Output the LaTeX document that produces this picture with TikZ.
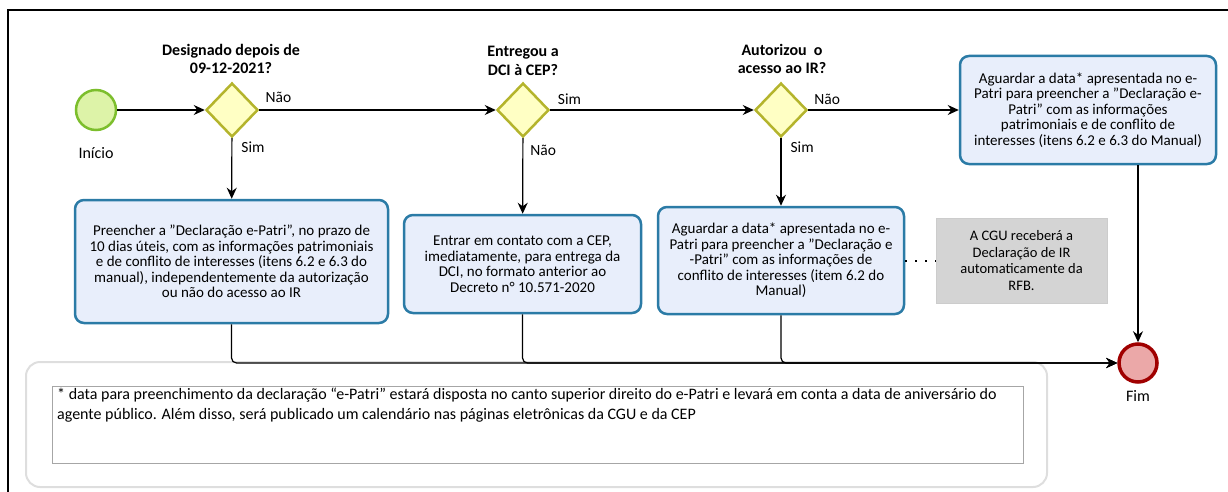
\documentclass[tikz,border=0pt]{standalone}
\usepackage{fontspec}
\setmainfont{Carlito}
\usepackage{tikz}
\usetikzlibrary{arrows.meta,positioning,shapes.geometric}
\definecolor{taskfill}{HTML}{E8EEFB}
\definecolor{taskline}{HTML}{2B7BA6}
\definecolor{gatefill}{HTML}{FFFFC4}
\definecolor{gateline}{HTML}{B4B42C}
\definecolor{startfill}{HTML}{DDF3A8}
\definecolor{startline}{HTML}{7CBE2C}
\definecolor{endfill}{HTML}{EBA8A8}
\definecolor{endline}{HTML}{A00000}
\definecolor{notefill}{HTML}{D4D4D4}
\definecolor{groupline}{HTML}{DEDEDE}

\begin{document}
\begin{tikzpicture}[x=1pt,y=-1pt,
  task/.style={draw=taskline,fill=taskfill,line width=2.5pt,rounded corners=9pt,
    align=center,inner sep=0pt,font=\fontsize{15}{15.5}\selectfont},
  gate/.style={diamond,draw=gateline,fill=gatefill,line width=2.5pt,
    minimum width=52pt,minimum height=54pt,inner sep=0pt},
  question/.style={align=center,font=\fontsize{16}{18.5}\selectfont\bfseries},
  branch/.style={font=\fontsize{15.5}{16}\selectfont,inner sep=1pt},
  flow/.style={line width=1.2pt,->,>={Stealth[length=11pt,width=10pt]}}]
\useasboundingbox (0,0) rectangle (1228,492);
\draw[line width=1.5pt] (8,500) -- (8,10) -- (1240,10);

% footnote group
\node (grp) [draw=groupline,line width=2pt,rounded corners=14pt,
  minimum width=1021pt,minimum height=125pt] at (536.5,424.5) {};
\node (fbox) [draw=black!35,line width=0.8pt,minimum width=971pt,
  minimum height=77pt] at (537.5,424.5) {};
\node (ftext) [anchor=north west,align=left,inner sep=0pt,
  font=\fontsize{16}{20}\selectfont] at (57,388)
  {* data para preenchimento da declaração “e-Patri” estará disposta no canto superior direito do e-Patri e levará em conta a data de aniversário do\\
   agente público. Além disso, será publicado um calendário nas páginas eletrônicas da CGU e da CEP};

% events and gateways
\node (ini) [circle,draw=startline,fill=startfill,line width=2.5pt,minimum size=40pt] at (96,110) {};
\node (inilab) [below=13pt of ini,font=\fontsize{16}{17}\selectfont] {Início};
\node (d1) [gate] at (232,110) {};
\node (d2) [gate] at (523,110) {};
\node (d3) [gate] at (781,110) {};
\node (q1) [question] at (231,59) {Designado depois de\\09-12-2021?};
\node (q2) [question] at (523,61) {Entregou a\\DCI à CEP?};
\node (q3) [question] at (782,59) {Autorizou\ \ o\\acesso ao IR?};

% tasks
\node (t1) [task,minimum width=313pt,minimum height=123pt] at (231.5,261.5)
  {Preencher a "Declaração e-Patri", no prazo de\\10 dias úteis, com as informações patrimoniais\\e de conflito de interesses (itens 6.2 e 6.3 do\\manual), independentemente da autorização\\ou não do acesso ao IR};
\node (t2) [task,minimum width=237pt,minimum height=98pt] at (522.5,264)
  {Entrar em contato com a CEP,\\imediatamente, para entrega da\\DCI, no formato anterior ao\\Decreto n° 10.571-2020};
\node (t3) [task,minimum width=246pt,minimum height=107pt] at (781,260.5)
  {Aguardar a data* apresentada no e-\\Patri para preencher a "Declaração e\\-Patri" com as informações de\\conflito de interesses (item 6.2 do\\Manual)};
\node (t4) [task,minimum width=256pt,minimum height=108pt] at (1088,110)
  {Aguardar a data* apresentada no e-\\Patri para preencher a "Declaração e-\\Patri" com as informações\\patrimoniais e de conflito de\\interesses (itens 6.2 e 6.3 do Manual)};
\node (note) [fill=notefill,draw=black!20,line width=0.6pt,minimum width=171pt,minimum height=85pt,
  align=center,inner sep=0pt,font=\fontsize{14.5}{16.5}\selectfont] at (1021.5,260.5)
  {A CGU receberá a\\Declaração de IR\\automaticamente da\\RFB.};
\node (fim) [circle,draw=endline,fill=endfill,line width=3.5pt,minimum size=38pt] at (1138,363) {};
\node (fimlab) [below=3pt of fim,font=\fontsize{16}{17}\selectfont] {Fim};

% connectors
\path[flow]
(ini) edge (d1)
(d1) edge node[branch,pos=0.02,anchor=south west,yshift=6pt]{Não} (d2)
(d2) edge node[branch,pos=0.03,anchor=south west,yshift=4pt]{Sim} (d3)
(d3) edge node[branch,pos=0.03,anchor=south west,yshift=4pt]{Não} (t4)
(d1) edge node[branch,pos=0.15,right=8pt]{Sim} (t1)
(d2) edge node[branch,pos=0.16,right=6pt]{Não} (t2)
(d3) edge node[branch,pos=0.14,right=8pt]{Sim} (t3);
\draw[flow] (t4.south -| fim) -- (fim);
\draw[flow,rounded corners=5pt] (t1) |- (fim);
\draw[flow,rounded corners=5pt] (t2) |- (fim);
\draw[flow,rounded corners=5pt] (t3) |- (fim);
\draw[line width=2pt,dash pattern=on 2pt off 8pt] (t3) -- (note);
\end{tikzpicture}
\end{document}
